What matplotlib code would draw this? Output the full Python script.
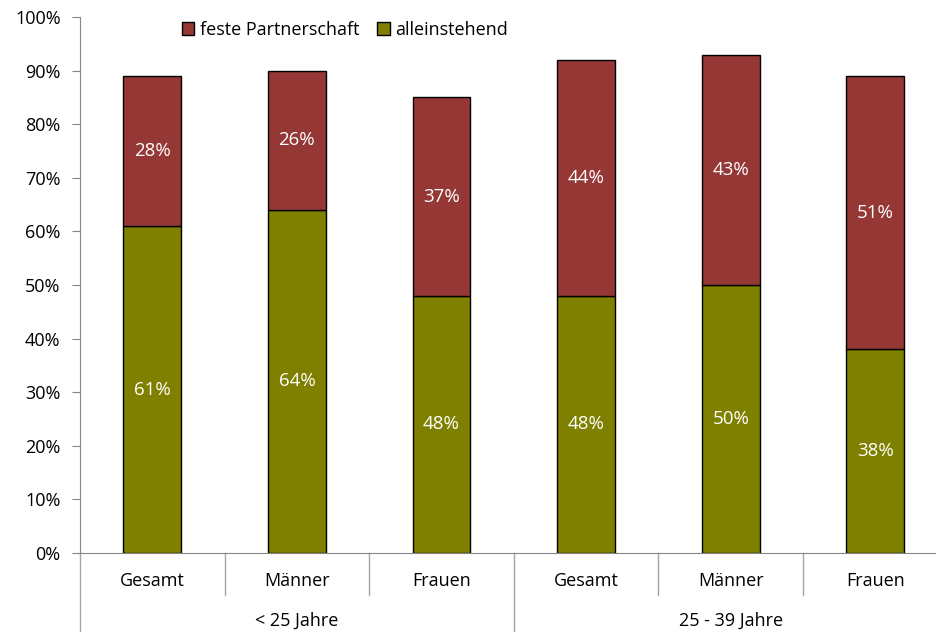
import matplotlib
matplotlib.use("Agg")
import matplotlib.pyplot as plt
import matplotlib.transforms as mtransforms

categories = ["Gesamt", "Männer", "Frauen", "Gesamt", "Männer", "Frauen"]
groups = ["< 25 Jahre", "25 - 39 Jahre"]
group_sizes = [3, 3]
alleinstehend = [61, 64, 48, 48, 50, 38]
partnerschaft = [28, 26, 37, 44, 43, 51]
yticks = [0, 10, 20, 30, 40, 50, 60, 70, 80, 90, 100]

plt.rcParams['font.family'] = ['Open Sans', 'DejaVu Sans']
FS = 13

W, H = 936, 632
fig = plt.figure(figsize=(W / 100, H / 100), dpi=100)
left = 80 / W
bottom = (H - 553) / H
height = (553 - 17) / H
width = 867.6 / W
ax = fig.add_axes([left, bottom, width, height])

x = list(range(len(categories)))
green = "#808000"
red = "#953735"
b1 = ax.bar(x, alleinstehend, width=0.4, color=green, edgecolor="black", linewidth=1, label="alleinstehend", zorder=2)
b2 = ax.bar(x, partnerschaft, width=0.4, bottom=alleinstehend, color=red, edgecolor="black", linewidth=1, label="feste Partnerschaft", zorder=2)

for i in x:
    ax.text(i, alleinstehend[i] / 2, f"{alleinstehend[i]}%", ha="center", va="center", color="white", fontsize=FS + 0.5)
    ax.text(i, alleinstehend[i] + partnerschaft[i] / 2, f"{partnerschaft[i]}%", ha="center", va="center", color="white", fontsize=FS + 0.5)

ax.set_xlim(-0.5, len(categories) - 0.5)
ax.set_ylim(0, 100)
ax.set_yticks(yticks)
ax.set_yticklabels([f"{t}%" for t in yticks], fontsize=FS)
ax.set_xticks([])
for s in ["top", "right"]:
    ax.spines[s].set_visible(False)
for s in ["left", "bottom"]:
    ax.spines[s].set_color("#868686")
ax.tick_params(axis="y", direction="out", length=6, color="#868686", pad=8)

trans = mtransforms.blended_transform_factory(ax.transData, fig.transFigure)
y_axis = bottom
y_short = (H - 595) / H
# category labels
for i, c in enumerate(categories):
    ax.text(i, (H - 581) / H, c, transform=trans, ha="center", va="center", fontsize=FS)
# separators
boundaries = [0]
for g in group_sizes:
    boundaries.append(boundaries[-1] + g)
for k in range(len(categories) + 1):
    xp = k - 0.5
    y_end = 0 if k in boundaries else y_short
    ax.plot([xp, xp], [y_axis, y_end], transform=trans, color="#a6a6a6", lw=1, clip_on=False)
# group labels
start = 0
for g, n in zip(groups, group_sizes):
    ax.text(start + (n - 1) / 2, (H - 621) / H, g, transform=trans, ha="center", va="center", fontsize=FS)
    start += n

handles = [b2, b1]
leg = fig.legend(handles, ["feste Partnerschaft", "alleinstehend"], loc="center",
                 bbox_to_anchor=(345 / W, (H - 30) / H), ncol=2, frameon=False,
                 fontsize=FS, handlelength=0.7, handleheight=0.7, handletextpad=0.3,
                 columnspacing=1.0)

fig.savefig("out.png", dpi=100)
